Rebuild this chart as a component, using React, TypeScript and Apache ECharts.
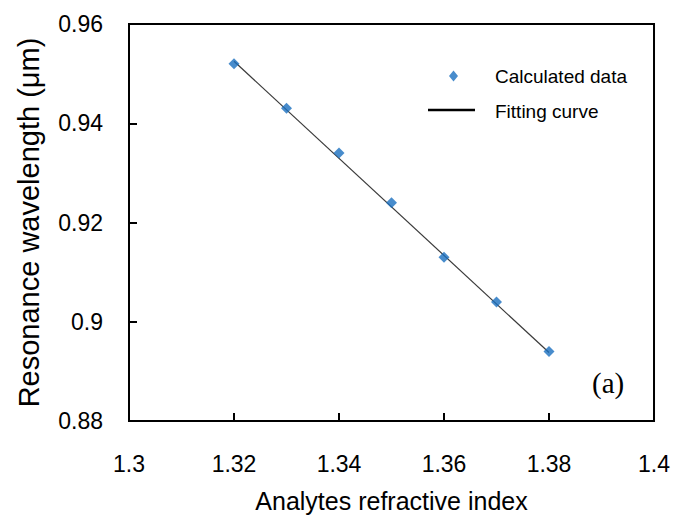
import React, { useEffect, useRef } from "react";
import * as echarts from "echarts";

const refractiveIndex = [1.32, 1.33, 1.34, 1.35, 1.36, 1.37, 1.38];
const wavelength = [0.952, 0.943, 0.934, 0.924, 0.913, 0.904, 0.894];
const fitX = [1.32, 1.38];
const fitY = [0.9525, 0.8938];

const DIAMOND_ICON =
  "path://M0,0 L0.01,0 L0,0.01 Z M47,20 L46.99,20 L47,19.99 Z M25.5,4.5 L30,10 L25.5,15.5 L21,10 Z";
const LINE_ICON =
  "path://M0,0 L0.01,0 L0,0.01 Z M47,20 L46.99,20 L47,19.99 Z M0,7.8 L47,7.8 L47,10.2 L0,10.2 Z";

export default function App() {
  const ref = useRef<HTMLDivElement>(null);
  useEffect(() => {
    if (!ref.current) return;
    const chart = echarts.init(ref.current, null, { renderer: "svg" });
    const font = "Liberation Sans, Arial, sans-serif";
    chart.setOption({
      animation: false,
      backgroundColor: "#ffffff",
      grid: {
        left: 129,
        right: 18,
        top: 24,
        bottom: 98,
        show: true,
        borderColor: "#000",
        borderWidth: 2,
        backgroundColor: "transparent",
      },
      legend: {
        left: 423,
        top: 61,
        orient: "vertical",
        itemWidth: 47,
        itemHeight: 20,
        itemGap: 15,
        textStyle: {
          fontFamily: font,
          fontSize: 19,
          lineHeight: 20,
          color: "#000",
          padding: [0, 0, 0, 15],
        },
        data: [
          { name: "Calculated data", icon: DIAMOND_ICON, itemStyle: { color: "#1a6fbf" } },
          { name: "Fitting curve", icon: LINE_ICON, itemStyle: { color: "#000" } },
        ],
      },
      xAxis: {
        type: "value",
        min: 1.3,
        max: 1.4,
        interval: 0.02,
        name: "Analytes refractive index",
        nameLocation: "middle",
        nameGap: 67,
        nameTextStyle: { fontFamily: font, fontSize: 25, color: "#000" },
        axisLine: { show: true, lineStyle: { color: "#000", width: 2 } },
        axisTick: { show: true, inside: true, length: 8, lineStyle: { color: "#000", width: 2 } },
        axisLabel: { fontFamily: font, fontSize: 23, color: "#000", margin: 31 },
        splitLine: { show: false },
      },
      yAxis: {
        type: "value",
        min: 0.88,
        max: 0.96,
        interval: 0.02,
        name: "Resonance wavelength (μm)",
        nameLocation: "middle",
        nameGap: 86,
        nameTextStyle: { fontFamily: font, fontSize: 29, color: "#000" },
        axisLine: { show: true, lineStyle: { color: "#000", width: 2 } },
        axisTick: { show: true, inside: true, length: 8, lineStyle: { color: "#000", width: 2 } },
        axisLabel: { fontFamily: font, fontSize: 23, color: "#000", margin: 26 },
        splitLine: { show: false },
      },
      series: [
        {
          name: "Fitting curve",
          type: "line",
          data: fitX.map((x, i) => [x, fitY[i]]),
          symbol: "none",
          lineStyle: { color: "#3a3a3a", width: 1.2 },
          z: 2,
        },
        {
          name: "Calculated data",
          type: "scatter",
          data: refractiveIndex.map((x, i) => [x, wavelength[i]]),
          symbol: "diamond",
          symbolSize: 11,
          itemStyle: { color: "#1a6fbf" },
          z: 3,
        },
      ],
      graphic: [
        {
          type: "text",
          left: 592,
          top: 368,
          style: { text: "(a)", font: "29px 'Liberation Serif', 'Times New Roman', serif", fill: "#000" },
        },
      ],
    });
    return () => chart.dispose();
  }, []);
  return <div ref={ref} style={{ width: 673, height: 519, position: "absolute", left: 0, top: 0 }} />;
}
